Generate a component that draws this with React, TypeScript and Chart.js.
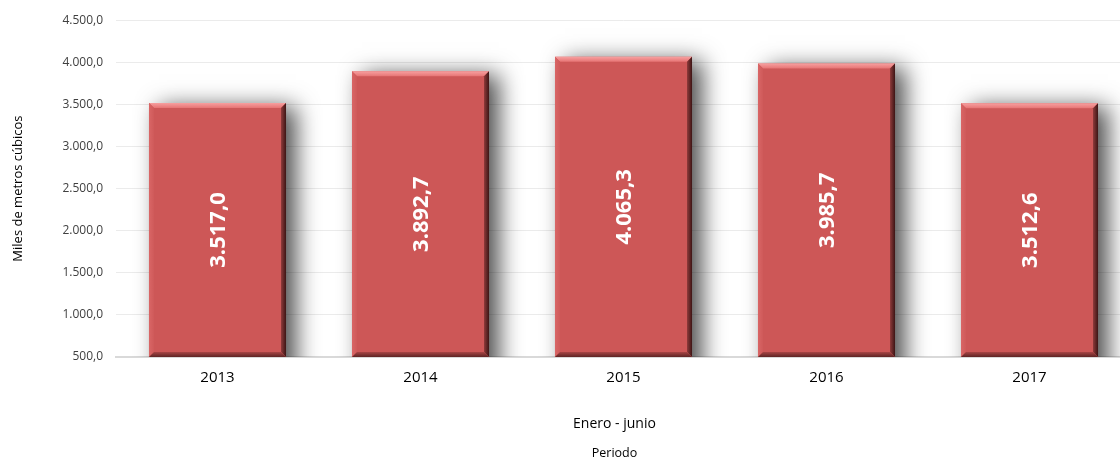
import React, { useEffect, useRef } from "react";
import { Chart, registerables } from "chart.js";

Chart.register(...registerables);

const categories = ["2013", "2014", "2015", "2016", "2017"];
const values = [3517.0, 3892.7, 4065.3, 3985.7, 3512.6];
const yMin = 500;
const yMax = 4500;
const yStep = 500;
const yTitle = "Miles de metros cúbicos";
const xTitle = "Enero - junio";
const xSubtitle = "Periodo";

const fmtFixed = (v: number) => {
  const s = v.toFixed(1);
  const [i, d] = s.split(".");
  const ig = i.replace(/\B(?=(\d{3})+(?!\d))/g, ".");
  return ig + "," + d;
};

const BAR_COLOR = "#CD5757";

const bevelPlugin = {
  id: "bevel",
  beforeDatasetsDraw(chart: any) {
    const ctx = chart.ctx;
    const ca = chart.chartArea;
    const meta = chart.getDatasetMeta(0);
    ctx.save();
    ctx.beginPath();
    ctx.rect(ca.left, 0, ca.right - ca.left, ca.bottom);
    ctx.clip();
    meta.data.forEach((bar: any) => {
      const { x, y, base, width } = bar.getProps(["x", "y", "base", "width"], true);
      const b = Math.min(base, ca.bottom);
      const l = x - width / 2;
      ctx.save();
      ctx.shadowColor = "rgba(0,0,0,0.7)";
      ctx.shadowBlur = 22;
      ctx.shadowOffsetX = 10;
      ctx.shadowOffsetY = 2;
      ctx.fillStyle = "#444";
      ctx.fillRect(l, y + 2, width, b - y + 20);
      ctx.restore();
    });
    ctx.restore();
  },
  afterDatasetsDraw(chart: any) {
    const ctx = chart.ctx;
    const ca = chart.chartArea;
    const meta = chart.getDatasetMeta(0);
    meta.data.forEach((bar: any) => {
      const { x, y, base, width } = bar.getProps(["x", "y", "base", "width"], true);
      const l = x - width / 2;
      const r = x + width / 2;
      const t = y;
      const b = Math.min(base, ca.bottom);
      const d = 5;
      ctx.save();
      let g = ctx.createLinearGradient(0, t, 0, t + d);
      g.addColorStop(0, "#f7a0a0");
      g.addColorStop(1, "#e67474");
      ctx.fillStyle = g;
      ctx.beginPath();
      ctx.moveTo(l, t);
      ctx.lineTo(r, t);
      ctx.lineTo(r - d, t + d);
      ctx.lineTo(l + d, t + d);
      ctx.closePath();
      ctx.fill();
      g = ctx.createLinearGradient(l, 0, l + d, 0);
      g.addColorStop(0, "#d96666");
      g.addColorStop(1, "#cf5a5a");
      ctx.fillStyle = g;
      ctx.beginPath();
      ctx.moveTo(l, t);
      ctx.lineTo(l + d, t + d);
      ctx.lineTo(l + d, b - d);
      ctx.lineTo(l, b);
      ctx.closePath();
      ctx.fill();
      g = ctx.createLinearGradient(r - d, 0, r, 0);
      g.addColorStop(0, "#8e3a3a");
      g.addColorStop(1, "#3d1515");
      ctx.fillStyle = g;
      ctx.beginPath();
      ctx.moveTo(r, t);
      ctx.lineTo(r, b);
      ctx.lineTo(r - d, b - d);
      ctx.lineTo(r - d, t + d);
      ctx.closePath();
      ctx.fill();
      g = ctx.createLinearGradient(0, b - d, 0, b);
      g.addColorStop(0, "#a84545");
      g.addColorStop(1, "#5e2424");
      ctx.fillStyle = g;
      ctx.beginPath();
      ctx.moveTo(l, b);
      ctx.lineTo(r, b);
      ctx.lineTo(r - d, b - d);
      ctx.lineTo(l + d, b - d);
      ctx.closePath();
      ctx.fill();
      ctx.restore();
    });
    ctx.save();
    ctx.fillStyle = "#ffffff";
    ctx.font = "bold 22px 'Open Sans'";
    ctx.textAlign = "center";
    ctx.textBaseline = "middle";
    meta.data.forEach((bar: any, i: number) => {
      const { x, y, base } = bar.getProps(["x", "y", "base"], true);
      const b = Math.min(base, ca.bottom);
      ctx.save();
      ctx.translate(x, (y + b) / 2);
      ctx.rotate(-Math.PI / 2);
      ctx.fillText(fmtFixed(values[i]), 0, 1);
      ctx.restore();
    });
    ctx.restore();
    const cx = (ca.left + ca.right) / 2 - 9;
    ctx.save();
    ctx.fillStyle = "#000000";
    ctx.textAlign = "center";
    ctx.textBaseline = "middle";
    ctx.font = "14px 'Open Sans'";
    ctx.fillText(xTitle, cx, ca.bottom + 67);
    ctx.font = "12.5px 'Open Sans'";
    ctx.fillText(xSubtitle, cx, ca.bottom + 96);
    ctx.restore();
  },
};

export default function App() {
  const ref = useRef<HTMLCanvasElement | null>(null);
  useEffect(() => {
    document.body.style.overflow = "hidden";
    const chart = new Chart(ref.current!, {
      type: "bar",
      data: {
        labels: categories,
        datasets: [
          {
            data: values,
            backgroundColor: BAR_COLOR,
            borderWidth: 0,
            barPercentage: 0.675,
            categoryPercentage: 1,
          },
        ],
      },
      options: {
        animation: false,
        responsive: true,
        maintainAspectRatio: false,
        layout: { padding: { top: 20, left: 0, right: 0, bottom: 0 } },
        plugins: { legend: { display: false }, tooltip: { enabled: false } },
        scales: {
          x: {
            grid: { display: false, drawTicks: false },
            border: { display: true, color: "#d9d9d9", width: 2 },
            ticks: { color: "#000000", font: { family: "'Open Sans'", size: 15 }, padding: 12 },
            afterFit: (s: any) => {
              s.height = 102;
            },
          },
          y: {
            min: yMin,
            max: yMax,
            ticks: {
              stepSize: yStep,
              color: "#404040",
              font: { family: "'Open Sans'", size: 12 },
              padding: 13,
              callback: (v: any) => fmtFixed(Number(v)),
            },
            grid: { color: "#ebebeb", lineWidth: 1, drawTicks: false },
            border: { display: false },
            title: {
              display: true,
              text: yTitle,
              color: "#000000",
              font: { family: "'Open Sans'", size: 13 },
              padding: { top: 10, bottom: 0 },
            },
            afterFit: (s: any) => {
              s.width = 116;
            },
          },
        },
      },
      plugins: [bevelPlugin],
    });
    return () => chart.destroy();
  }, []);
  return (
    <div style={{ position: "absolute", left: 0, top: 0, width: 1131, height: 459 }}>
      <canvas ref={ref} />
    </div>
  );
}
